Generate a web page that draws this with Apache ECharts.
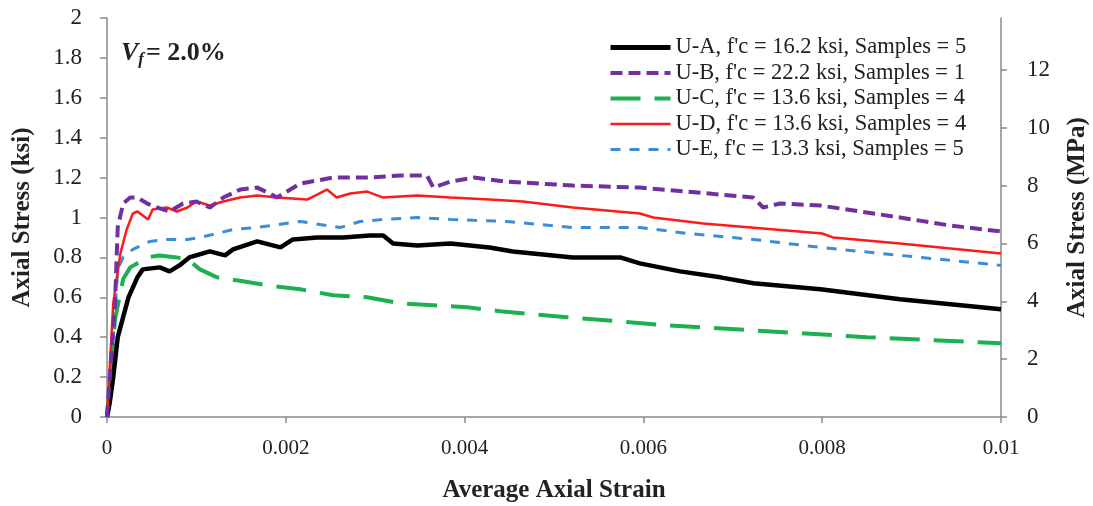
<!DOCTYPE html>
<html><head><meta charset="utf-8">
<script src="https://cdn.jsdelivr.net/npm/echarts@6/dist/echarts.min.js"></script>
<style>html,body{margin:0;padding:0;background:#fff}#c{width:1093px;height:506px}</style>
</head><body><div id="c"></div>
<script>
var seriesNames = [
  "U-A, f'c = 16.2 ksi, Samples = 5",
  "U-B, f'c = 22.2 ksi, Samples = 1",
  "U-C, f'c = 13.6 ksi, Samples = 4",
  "U-D, f'c = 13.6 ksi, Samples = 4",
  "U-E, f'c = 13.3 ksi, Samples = 5"
];
var xTicks = [0, 0.002, 0.004, 0.006, 0.008, 0.01];
var yTicksKsi = [0, 0.2, 0.4, 0.6, 0.8, 1, 1.2, 1.4, 1.6, 1.8, 2];
var yTicksMPa = [0, 2, 4, 6, 8, 10, 12];

var uaStrain = [0,0.00003,0.00007,0.00012,0.00024,0.00034,0.0004,0.00059,0.0007,0.00081,0.00092,0.00115,0.00132,0.00141,0.00168,0.00194,0.00208,0.00235,0.00264,0.00294,0.00309,0.0032,0.00347,0.00384,0.00428,0.00454,0.00521,0.00574,0.00596,0.00641,0.00686,0.00723,0.00798,0.00887,0.01];
var uaStress = [0,0.07,0.2,0.4,0.6,0.7,0.74,0.75,0.73,0.76,0.8,0.83,0.81,0.84,0.88,0.85,0.89,0.9,0.9,0.91,0.91,0.87,0.86,0.87,0.85,0.83,0.8,0.8,0.77,0.73,0.7,0.67,0.64,0.59,0.54];

var ubStrain = [0,0.00009,0.00012,0.00018,0.00026,0.00034,0.00045,0.00056,0.0007,0.00085,0.001,0.00115,0.0013,0.00149,0.00168,0.00182,0.0019,0.00216,0.00253,0.00291,0.00328,0.00358,0.00365,0.00384,0.0041,0.00447,0.00521,0.00596,0.00649,0.00723,0.00734,0.00753,0.00798,0.00887,0.00943,0.01];
var ubStress = [0,0.57,0.95,1.07,1.1,1.1,1.07,1.05,1.03,1.07,1.08,1.05,1.1,1.14,1.15,1.12,1.1,1.17,1.2,1.2,1.21,1.21,1.15,1.18,1.2,1.18,1.16,1.15,1.13,1.1,1.05,1.07,1.06,1.0,0.96,0.93];

var ucStrain = [0,0.00009,0.00018,0.00026,0.00045,0.00059,0.00078,0.0009,0.00104,0.00123,0.00152,0.00179,0.00216,0.00253,0.00291,0.00328,0.00403,0.0044,0.00515,0.00626,0.00738,0.0085,0.01];
var ucStress = [0,0.49,0.69,0.75,0.8,0.81,0.8,0.79,0.74,0.7,0.68,0.66,0.64,0.61,0.6,0.57,0.55,0.53,0.5,0.46,0.43,0.4,0.37];

var udStrain = [0,0.00007,0.00015,0.00022,0.00029,0.00034,0.00046,0.00051,0.00067,0.00078,0.0009,0.001,0.00115,0.0013,0.00149,0.00168,0.0019,0.00224,0.00246,0.00257,0.00272,0.00291,0.00309,0.00347,0.00384,0.00428,0.00465,0.00521,0.00596,0.00611,0.00667,0.008,0.00812,0.00887,0.01];
var udStress = [0,0.57,0.82,0.94,1.02,1.03,0.99,1.04,1.05,1.03,1.05,1.08,1.06,1.08,1.1,1.11,1.1,1.09,1.14,1.1,1.12,1.13,1.1,1.11,1.1,1.09,1.08,1.05,1.02,1.0,0.97,0.92,0.9,0.87,0.82];

var ueStrain = [0,0.00007,0.00012,0.00018,0.00029,0.00048,0.00067,0.0009,0.00104,0.00123,0.00141,0.00168,0.00216,0.00261,0.00283,0.00309,0.00347,0.00384,0.00447,0.00521,0.00596,0.00649,0.00723,0.00798,0.00887,0.01];
var ueStress = [0,0.4,0.74,0.8,0.84,0.88,0.89,0.89,0.9,0.92,0.94,0.95,0.98,0.95,0.98,0.99,1.0,0.99,0.98,0.95,0.95,0.92,0.89,0.85,0.81,0.76];

function zip(a, b) { return a.map(function (v, i) { return [v, b[i]]; }); }

var FONT = 'Liberation Serif';
var KSI_TO_MPA = 6.894757;
var axisGray = '#8a8a8a';
var legendWidths = [5, 4, 4, 2.5, 3];

var chart = echarts.init(document.getElementById('c'), null, {renderer: 'canvas'});
chart.setOption({
  animation: false,
  backgroundColor: '#fff',
  title: {
    text: '{v|V}{f|f}{t|= 2.0%}',
    left: 116, top: 33,
    textStyle: {
      rich: {
        v: {fontFamily: FONT, fontSize: 26, fontWeight: 'bold', fontStyle: 'italic', color: '#222', lineHeight: 30},
        f: {fontFamily: FONT, fontSize: 17, fontWeight: 'bold', fontStyle: 'italic', color: '#222', verticalAlign: 'bottom', lineHeight: 14, padding: [0, 2, 0, 0]},
        t: {fontFamily: FONT, fontSize: 26, fontWeight: 'bold', color: '#222', lineHeight: 30}
      }
    }
  },
  legend: {
    orient: 'vertical',
    left: 603, top: 31,
    itemWidth: 60, itemHeight: 14, itemGap: 2.5,
    itemStyle: {opacity: 0},
    textStyle: {fontFamily: FONT, fontSize: 22.5, color: '#222'},
    data: seriesNames.map(function (n, i) { return {name: n, lineStyle: {width: legendWidths[i]}}; })
  },
  grid: {left: 107, right: 92, top: 18, bottom: 89, containLabel: false, outerBoundsMode: 'none'},
  xAxis: {
    type: 'value', min: 0, max: 0.01, interval: 0.002,
    name: 'Average Axial Strain', nameLocation: 'middle', nameGap: 61,
    nameTextStyle: {fontFamily: FONT, fontSize: 25, fontWeight: 'bold', color: '#222'},
    axisLine: {lineStyle: {color: axisGray, width: 1.5}},
    axisTick: {length: 6, lineStyle: {color: axisGray, width: 1.5}},
    splitLine: {show: false},
    axisLabel: {fontFamily: FONT, fontSize: 21, color: '#222', margin: 21,
      formatter: function (v) { return String(+v.toFixed(4)); }}
  },
  yAxis: [{
    type: 'value', min: 0, max: 2, interval: 0.2, position: 'left',
    name: 'Axial Stress (ksi)', nameLocation: 'middle', nameGap: 72,
    nameTextStyle: {fontFamily: FONT, fontSize: 25, fontWeight: 'bold', color: '#222'},
    axisLine: {show: true, lineStyle: {color: axisGray, width: 1.5}},
    axisTick: {show: true, length: 7, lineStyle: {color: axisGray, width: 1.5}},
    splitLine: {show: false},
    axisLabel: {fontFamily: FONT, fontSize: 23, color: '#222', margin: 25,
      formatter: function (v) { return String(+v.toFixed(1)); }}
  }, {
    type: 'value', min: 0, max: 2 * KSI_TO_MPA, interval: 2, position: 'right',
    name: 'Axial Stress (MPa)', nameLocation: 'middle', nameGap: 64,
    nameTextStyle: {fontFamily: FONT, fontSize: 25, fontWeight: 'bold', color: '#222'},
    axisLine: {show: true, lineStyle: {color: axisGray, width: 1.5}},
    axisTick: {show: true, length: 6, lineStyle: {color: axisGray, width: 1.5}},
    splitLine: {show: false},
    axisLabel: {fontFamily: FONT, fontSize: 23, color: '#222', margin: 26, showMaxLabel: false,
      formatter: function (v) { return yTicksMPa.indexOf(Math.round(v)) >= 0 && Math.abs(v - Math.round(v)) < 1e-6 ? String(Math.round(v)) : ''; }}
  }],
  series: [
    {name: seriesNames[4], type: 'line', showSymbol: false, symbol: 'none', z: 2,
      data: zip(ueStrain, ueStress), lineStyle: {color: '#3b8ed6', width: 3, type: [10, 9]}, itemStyle: {color: '#3b8ed6'}},
    {name: seriesNames[2], type: 'line', showSymbol: false, symbol: 'none', z: 2,
      data: zip(ucStrain, ucStress), lineStyle: {color: '#1eb04f', width: 4, type: [30, 14]}, itemStyle: {color: '#1eb04f'}},
    {name: seriesNames[0], type: 'line', showSymbol: false, symbol: 'none', z: 3,
      data: zip(uaStrain, uaStress), lineStyle: {color: '#000', width: 4.5, type: 'solid'}, itemStyle: {color: '#000'}},
    {name: seriesNames[3], type: 'line', showSymbol: false, symbol: 'none', z: 3,
      data: zip(udStrain, udStress), lineStyle: {color: '#ff1a1a', width: 2.5, type: 'solid'}, itemStyle: {color: '#ff1a1a'}},
    {name: seriesNames[1], type: 'line', showSymbol: false, symbol: 'none', z: 4,
      data: zip(ubStrain, ubStress), lineStyle: {color: '#7030a0', width: 4, type: [12, 6]}, itemStyle: {color: '#7030a0'}}
  ]
});
</script></body></html>
